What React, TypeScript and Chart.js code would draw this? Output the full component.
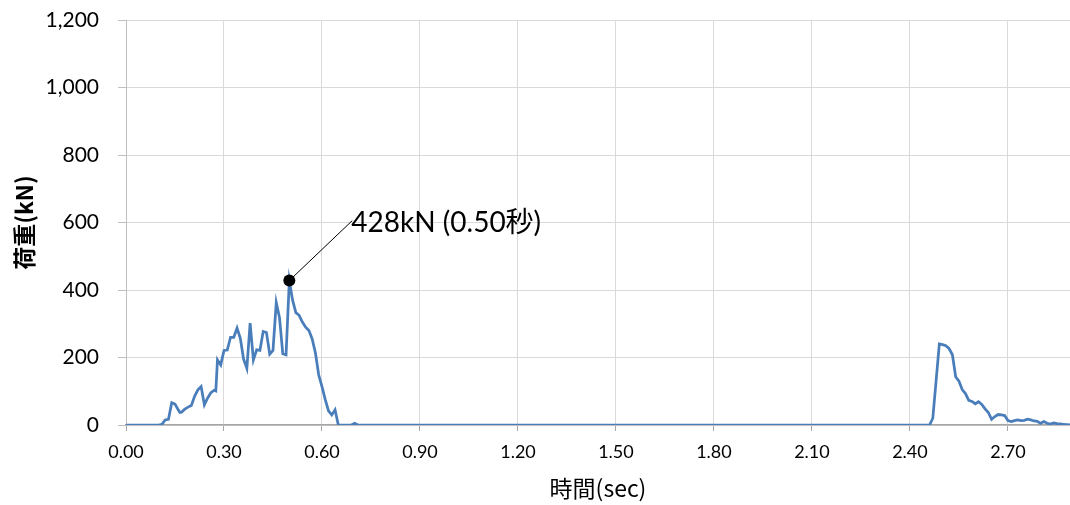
import React, { useEffect, useRef } from "react";
import { Chart, registerables } from "chart.js";

Chart.register(...registerables);

// time (sec)
const times: number[] = [
  0.0, 0.1, 0.11, 0.12, 0.13, 0.14, 0.15, 0.16, 0.165, 0.17, 0.18, 0.19, 0.2, 0.21, 0.22, 0.23, 0.24, 0.25,
  0.26, 0.27, 0.275, 0.28, 0.29, 0.3, 0.31, 0.32, 0.33, 0.34, 0.35, 0.36, 0.37, 0.38, 0.39, 0.4, 0.41,
  0.42, 0.43, 0.44, 0.45, 0.46, 0.47, 0.48, 0.49, 0.5, 0.51, 0.52, 0.53, 0.54, 0.55, 0.56, 0.57, 0.58,
  0.59, 0.6, 0.61, 0.62, 0.63, 0.64, 0.65, 0.66, 0.69, 0.7, 0.71, 2.46, 2.47, 2.49, 2.5, 2.51, 2.52,
  2.53, 2.54, 2.55, 2.56, 2.57, 2.58, 2.59, 2.6, 2.61, 2.62, 2.63, 2.64, 2.65, 2.66, 2.67, 2.68, 2.69,
  2.7, 2.71, 2.72, 2.73, 2.74, 2.75, 2.76, 2.77, 2.78, 2.79, 2.8, 2.81, 2.82, 2.83, 2.84, 2.85, 2.86,
  2.87, 2.89,
];

// load (kN)
const loads: number[] = [
  0, 0, 2, 15, 17, 66, 62, 45, 37, 38, 47, 53, 58, 85, 104, 114, 60, 80,
  96, 103, 101, 193, 178, 221, 222, 260, 260, 287, 257, 195, 168, 302, 193, 223, 221,
  277, 274, 210, 221, 363, 318, 211, 208, 428, 370, 333, 325, 305, 290, 280, 255, 213,
  148, 114, 75, 42, 30, 45, 0, 0, 0, 5, 0, 0, 20, 240, 238, 235, 226,
  208, 143, 130, 105, 93, 73, 70, 63, 69, 61, 48, 37, 17, 25, 31, 30, 28,
  13, 10, 13, 15, 13, 14, 17, 15, 12, 11, 5, 10, 5, 3, 6, 4, 3,
  2, 0,
];

const xTickStep = 0.3;
const xMax = 2.89;
const yTickStep = 200;
const yMax = 1200;

const peakTime = 0.5;
const peakLoad = 428;
const peakLabel = "428kN (0.50秒)";

const NUM_FONT = "Lato, 'Noto Sans CJK JP', sans-serif";
const JP_FONT = "'Noto Sans CJK JP', 'Noto Sans', sans-serif";

const annotationPlugin = {
  id: "peakAnnotation",
  afterDatasetsDraw(chart: any) {
    const { ctx, scales } = chart;
    const px = scales.x.getPixelForValue(peakTime);
    const py = scales.y.getPixelForValue(peakLoad);
    const lx = px + 63;
    const ly = py - 60;
    ctx.save();
    ctx.strokeStyle = "#000000";
    ctx.lineWidth = 1;
    ctx.beginPath();
    ctx.moveTo(px, py);
    ctx.lineTo(lx, ly);
    ctx.stroke();
    ctx.beginPath();
    ctx.arc(px, py, 6, 0, Math.PI * 2);
    ctx.fillStyle = "#000000";
    ctx.fill();
    ctx.font = `28px ${NUM_FONT}`;
    ctx.textAlign = "left";
    ctx.textBaseline = "middle";
    ctx.fillText(peakLabel, lx - 1, ly + 2);
    ctx.restore();
  },
};

export default function App() {
  const canvasRef = useRef<HTMLCanvasElement | null>(null);

  useEffect(() => {
    if (!canvasRef.current) return;
    const data = times.map((t, i) => ({ x: t, y: loads[i] }));
    const chart = new Chart(canvasRef.current, {
      type: "line",
      data: {
        datasets: [
          {
            data,
            borderColor: "#4a7ebb",
            borderWidth: 2.75,
            pointRadius: 0,
            tension: 0,
            fill: false,
          },
        ],
      },
      options: {
        animation: false,
        responsive: true,
        maintainAspectRatio: false,
        layout: { padding: { top: 20, right: 0, left: 0, bottom: 0 } },
        plugins: {
          legend: { display: false },
          tooltip: { enabled: false },
        },
        scales: {
          x: {
            type: "linear",
            min: 0,
            max: xMax,
            afterFit(scale: any) {
              scale.height = 80;
              scale.paddingLeft = 0;
              scale.paddingRight = 0;
            },
            ticks: {
              stepSize: xTickStep,
              includeBounds: false,
              autoSkip: false,
              maxRotation: 0,
              padding: 10,
              color: "#000000",
              font: { family: NUM_FONT, size: 18 },
              callback: (v: any) => Number(v).toFixed(2),
            },
            grid: {
              color: "#d9d9d9",
              tickColor: "#a6a6a6",
              tickLength: 6,
              lineWidth: 1,
            },
            border: { color: "#a6a6a6", width: 1.5 },
            title: {
              display: true,
              text: "時間(sec)",
              color: "#000000",
              font: { family: JP_FONT, size: 23 },
              padding: { top: 0, bottom: 3 },
            },
          },
          y: {
            min: 0,
            max: yMax,
            afterFit(scale: any) {
              scale.width = 126;
              scale.paddingTop = 0;
              scale.paddingBottom = 0;
            },
            ticks: {
              stepSize: yTickStep,
              padding: 19,
              color: "#000000",
              font: { family: NUM_FONT, size: 21 },
              callback: (v: any) => Number(v).toLocaleString("en-US"),
            },
            grid: {
              color: "#d9d9d9",
              tickColor: "#bfbfbf",
              tickLength: 8,
              lineWidth: 1,
            },
            border: { color: "#bfbfbf", width: 1 },
            title: {
              display: true,
              text: "荷重(kN)",
              color: "#000000",
              font: { family: JP_FONT, size: 23, weight: "bold" },
              padding: { top: 10, bottom: 0 },
            },
          },
        },
      },
      plugins: [annotationPlugin],
    });
    return () => chart.destroy();
  }, []);

  return (
    <div style={{ position: "fixed", left: 0, top: 0, width: 1070, height: 505, background: "#ffffff" }}>
      <canvas ref={canvasRef} />
    </div>
  );
}
